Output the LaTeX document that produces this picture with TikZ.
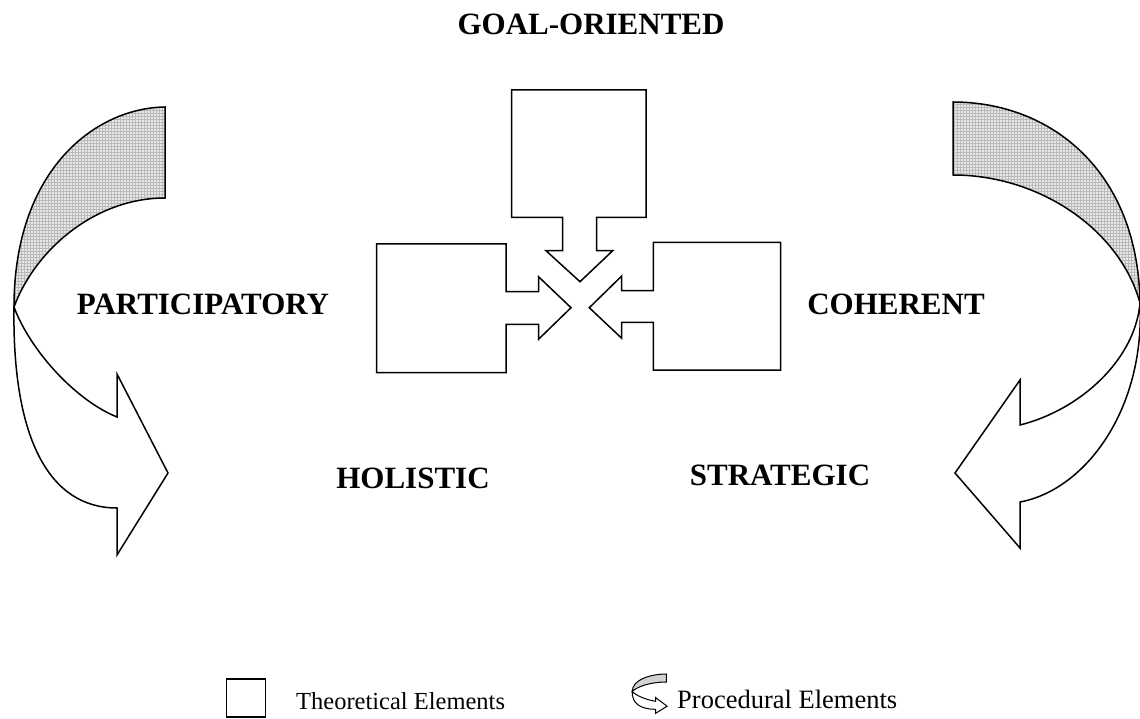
\documentclass[tikz,border=0pt]{standalone}
\usepackage{fontspec}
\setmainfont{Liberation Serif}
\usetikzlibrary{patterns}

\tikzset{
  outline/.style={draw=black, line width=1.5pt, line join=miter},
  backside/.style={preaction={fill=gray!18}, pattern=grid, pattern color=gray!55},
  frontside/.style={fill=white},
  termtext/.style={font=\bfseries\fontsize{31}{31}\selectfont, anchor=base, inner sep=0pt},
  legendtext/.style={font=\fontsize{24.5}{24.5}\selectfont, anchor=base west, inner sep=0pt},
  % twisted ribbon arrow: shaded back band on top, white front band with head
  leftswirl/.pic={
    \path[backside, outline] (165,107) .. controls (95,108) and (14,170) .. (14,307)
         .. controls (35,250) and (95,198) .. (165,198) -- cycle;
    \path[frontside, outline] (14,307) .. controls (12,440) and (50,508) .. (117,508)
         -- (117,555) -- (168,473) -- (117,374) -- (117,417)
         .. controls (75,400) and (30,350) .. (14,307) -- cycle;
  }
}

\begin{document}
\begin{tikzpicture}[x=1pt, y=-1pt]
\useasboundingbox (0,0) rectangle (1140,719);
\fill[white] (0,0) rectangle (1140,719);

% procedural elements: curved ribbon arrows
\pic {leftswirl};
\path[backside, outline] (953,102) .. controls (1050,102) and (1138,170) .. (1140,303)
     .. controls (1120,230) and (1040,175) .. (953,175) -- cycle;
\path[frontside, outline] (1140,303) .. controls (1145,410) and (1085,490) .. (1020,502)
     -- (1020,548) -- (955,473) -- (1020,380) -- (1020,425)
     .. controls (1080,410) and (1135,360) .. (1140,303) -- cycle;

% theoretical elements: boxes pointing to the centre
\draw[outline] (511.7,90) -- (646,90) -- (646,217.5) -- (596.7,217.5) -- (596.7,250.7)
     -- (612.7,250.7) -- (580,281.7) -- (546,250.7) -- (562.7,250.7) -- (562.7,217.5)
     -- (511.7,217.5) -- cycle;
\draw[outline] (376.7,244) -- (506,244) -- (506,291.7) -- (538.5,291.7) -- (538.5,276.7)
     -- (571,307.7) -- (538.5,339.3) -- (538.5,324.3) -- (506,324.3) -- (506,372.7)
     -- (376.7,372.7) -- cycle;
\draw[outline] (780.7,242.3) -- (653.3,242.3) -- (653.3,290.7) -- (621.7,290.7) -- (621.7,276)
     -- (589.3,307.7) -- (621.7,338.3) -- (621.7,322.3) -- (653.3,322.3) -- (653.3,370)
     -- (780.7,370) -- cycle;

% terms
\node[termtext] (goal) at (591,35) {GOAL-ORIENTED};
\node[termtext] (part) at (203,314) {PARTICIPATORY};
\node[termtext] (coh) at (896,314) {COHERENT};
\node[termtext] (hol) at (413,488) {HOLISTIC};
\node[termtext] (str) at (780,485) {STRATEGIC};

% legend
\node[draw, line width=1.2pt, minimum width=39pt, minimum height=38pt, inner sep=0pt]
     (legbox) at (246,698) {};
\node[legendtext] (theo) at (296,709) {Theoretical Elements};
\begin{scope}[outline/.style={draw=black, line width=1pt},
              backside/.style={fill=gray!35}]
  \pic[shift={(632,674)}, xscale=0.226, yscale=0.088, shift={(-13,-107)}] (legswirl) {leftswirl};
\end{scope}
\node[legendtext, font=\fontsize{26.5}{26.5}\selectfont] (proc) at (677,708) {Procedural Elements};
\end{tikzpicture}
\end{document}
